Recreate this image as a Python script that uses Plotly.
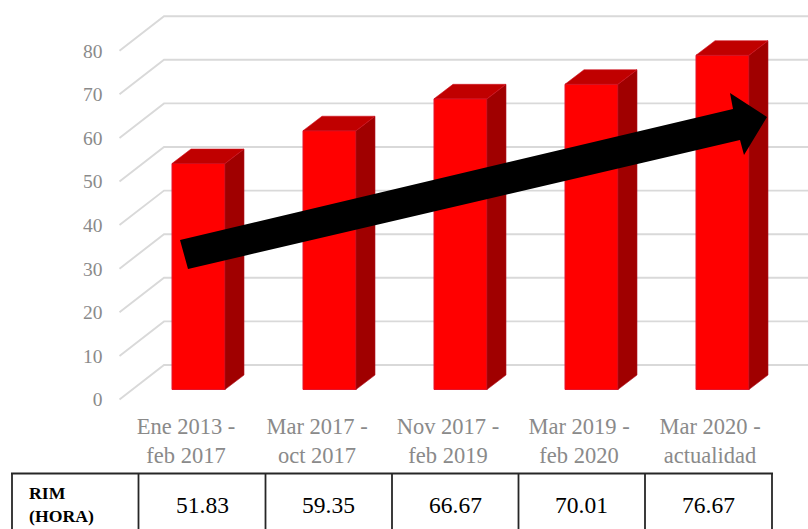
import plotly.graph_objects as go

# ---- data ----
categories = ["Ene 2013 -<br>feb 2017", "Mar 2017 -<br>oct 2017", "Nov 2017 -<br>feb 2019",
              "Mar 2019 -<br>feb 2020", "Mar 2020 -<br>actualidad"]
rim_hours = [51.83, 59.35, 66.67, 70.01, 76.67]
y_ticks = [0, 10, 20, 30, 40, 50, 60, 70, 80]
row_label = "<b>RIM</b><br><b>(HORA)</b>"

# ---- page geometry (pixels) ----
W, H = 808, 529
STEP = 131.0        # px per category
UNIT = 4.36         # px per value unit
X0_FRONT, Y0_FRONT = 186.0, 399.5   # front plane of the 3-D box (axis labels)
X0_BAR, Y0_BAR = 198.5, 389.5       # plane of the bars' front faces
BAR_W = 53 / STEP
BAR_DX, BAR_DY = 19 / STEP, 14.5 / UNIT
WALL_DX, WALL_DY = 44.5 / STEP, 34.5 / UNIT
GRID_LEFT = (119.5 - X0_FRONT) / STEP
GRID_RIGHT = (W - X0_FRONT) / STEP

GRID = "#d9d9d9"
TEXT = "#8a8a8a"
SERIF = "Liberation Serif, Times New Roman, serif"


def fx(p):
    return p / W


def fy(p):
    return 1 - p / H


fig = go.Figure()

# walls and gridlines (front plane axes)
for v in y_ticks:
    fig.add_trace(go.Scatter(
        x=[GRID_LEFT, GRID_LEFT + WALL_DX, GRID_RIGHT],
        y=[v, v + WALL_DY, v + WALL_DY],
        mode="lines", line=dict(color=GRID, width=1.9),
        hoverinfo="skip", showlegend=False, xaxis="x", yaxis="y", cliponaxis=False))

# bars: front faces
fig.add_trace(go.Bar(
    x=list(range(len(rim_hours))), y=rim_hours, width=BAR_W,
    marker=dict(color="#ff0000", line=dict(color="#e2142c", width=1)),
    showlegend=False, xaxis="x2", yaxis="y2"))

# bars: side and top faces
for i, v in enumerate(rim_hours):
    r = i + BAR_W / 2
    l = i - BAR_W / 2
    fig.add_trace(go.Scatter(
        x=[r, r + BAR_DX, r + BAR_DX, r, r],
        y=[0, BAR_DY, v + BAR_DY, v, 0],
        mode="lines", fill="toself", fillcolor="#a00000",
        line=dict(color="#b01020", width=0.6),
        hoverinfo="skip", showlegend=False, xaxis="x2", yaxis="y2"))
    fig.add_trace(go.Scatter(
        x=[l, l + BAR_DX, r + BAR_DX, r, l],
        y=[v, v + BAR_DY, v + BAR_DY, v, v],
        mode="lines", fill="toself", fillcolor="#c00000",
        line=dict(color="#d01020", width=0.6),
        hoverinfo="skip", showlegend=False, xaxis="x2", yaxis="y2"))

shapes = []

# trend arrow (drawn over the chart)
arrow = [(180, 240), (733, 109), (730, 93), (767, 117), (744, 155), (740, 140), (188, 269)]
path = "M " + " L ".join(f"{fx(a)} {fy(b)}" for a, b in arrow) + " Z"
shapes.append(dict(type="path", path=path, xref="paper", yref="paper",
                   fillcolor="#000000", line=dict(width=0), layer="above"))

# table under the chart
col_edges = [12, 138.5, 265.5, 392, 518.5, 645, 772]
TOP = 473.5
for xp in col_edges:
    shapes.append(dict(type="line", xref="paper", yref="paper", x0=fx(xp), x1=fx(xp),
                       y0=fy(TOP), y1=0, line=dict(color="#262626", width=1.8)))
shapes.append(dict(type="line", xref="paper", yref="paper", x0=fx(col_edges[0] - 1), x1=fx(col_edges[-1] + 1),
                   y0=fy(TOP), y1=fy(TOP), line=dict(color="#262626", width=1.8)))

annotations = [dict(text=row_label, x=fx(27), y=fy(481), xref="paper", yref="paper",
                    xanchor="left", yanchor="top", align="left", showarrow=False,
                    font=dict(family=SERIF, size=17.7, color="#000000"))]
for i, v in enumerate(rim_hours):
    cx = (col_edges[i + 1] + col_edges[i + 2]) / 2
    annotations.append(dict(text=f"{v:.2f}", x=fx(cx), y=fy(505), xref="paper", yref="paper",
                            xanchor="center", yanchor="middle", showarrow=False,
                            font=dict(family=SERIF, size=23.5, color="#000000")))

fig.update_layout(
    width=W, height=H, margin=dict(l=0, r=0, t=0, b=0), autosize=False,
    paper_bgcolor="#ffffff", plot_bgcolor="#ffffff", showlegend=False,
    xaxis=dict(range=[-X0_FRONT / STEP, (W - X0_FRONT) / STEP], domain=[0, 1],
               tickmode="array", tickvals=list(range(len(categories))), ticktext=categories,
               anchor="free", position=fy(410), showgrid=False, zeroline=False, showline=False,
               ticks="", tickfont=dict(family=SERIF, size=22.5, color=TEXT), tickangle=0),
    yaxis=dict(range=[(Y0_FRONT - H) / UNIT, Y0_FRONT / UNIT], domain=[0, 1],
               tickmode="array", tickvals=y_ticks, anchor="free", position=fx(102.5),
               showgrid=False, zeroline=False, showline=False, ticks="",
               tickfont=dict(family=SERIF, size=19.5, color=TEXT)),
    xaxis2=dict(range=[-X0_BAR / STEP, (W - X0_BAR) / STEP], overlaying="x", visible=False),
    yaxis2=dict(range=[(Y0_BAR - H) / UNIT, Y0_BAR / UNIT], overlaying="y", visible=False),
    shapes=shapes, annotations=annotations,
)

fig.write_html("out.html", post_script="document.body.style.margin='0';document.body.style.overflow='hidden';",
               config={"displayModeBar": False})
